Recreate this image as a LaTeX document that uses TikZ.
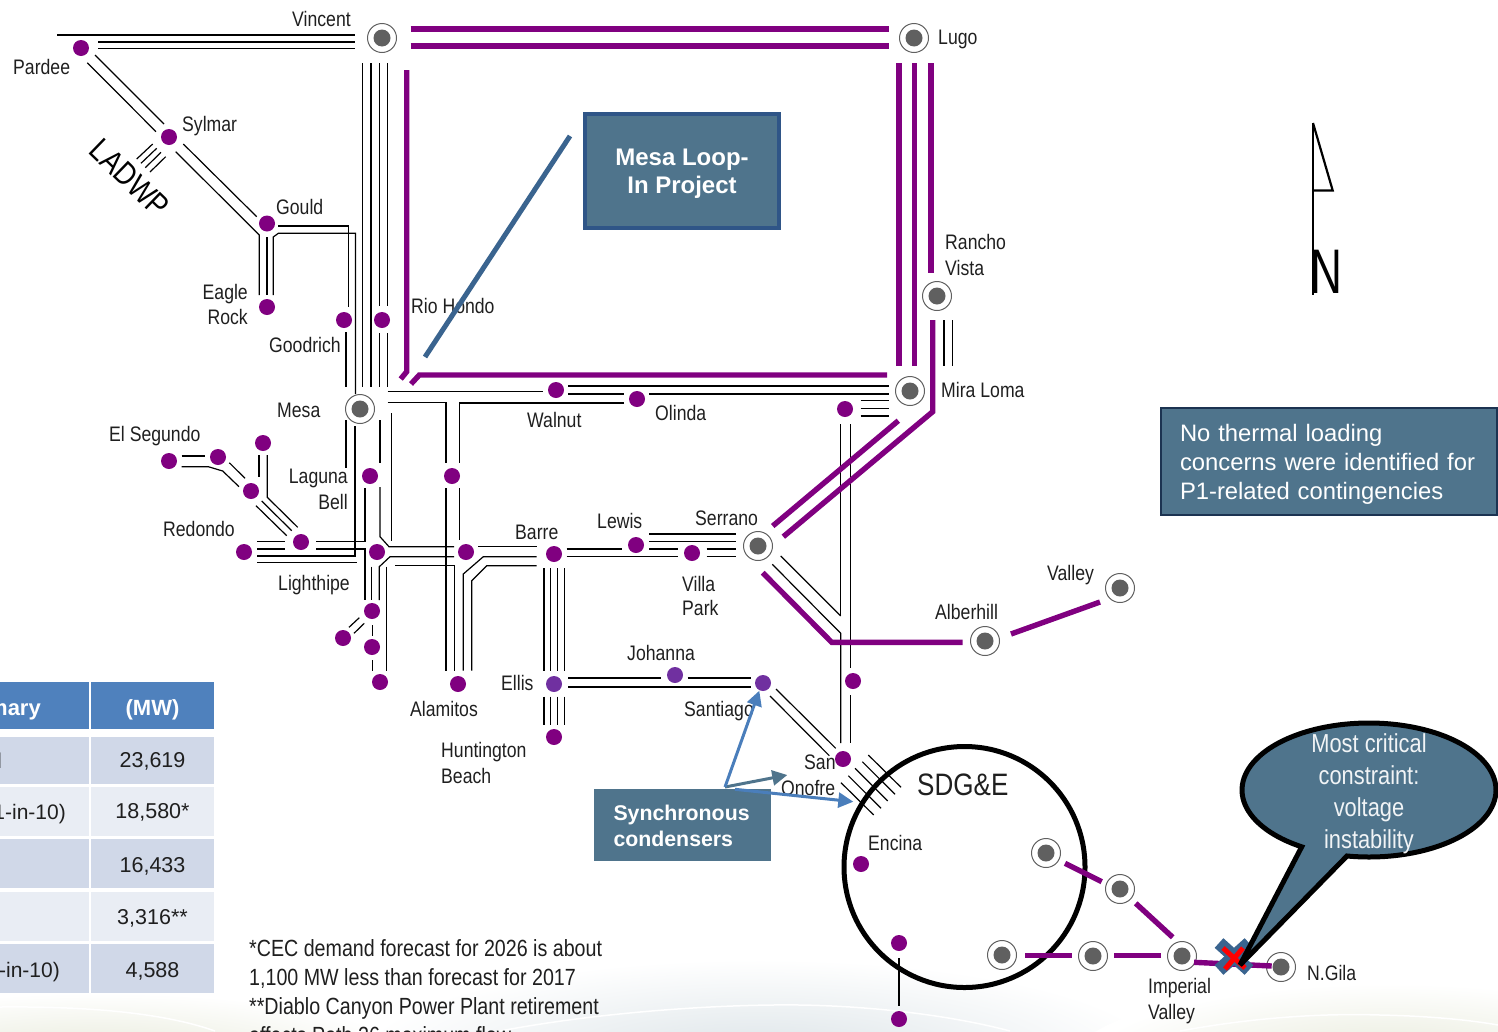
\documentclass[tikz,border=0pt]{standalone}
\usepackage{fontspec}
\usetikzlibrary{arrows.meta}
\setmainfont[FakeStretch=0.84]{Liberation Sans}
\newfontfamily\fullfont{Liberation Sans}
\definecolor{pwr}{HTML}{800080}
\definecolor{pwrb}{HTML}{7030A0}
\definecolor{corec}{HTML}{606060}
\definecolor{slate}{HTML}{4F748C}
\definecolor{navyb}{HTML}{2F5587}
\definecolor{loopc}{HTML}{3A648F}
\definecolor{bluea}{HTML}{4A7EBB}
\definecolor{hdr}{HTML}{4F81BD}
\definecolor{rowa}{HTML}{D0D8E8}
\definecolor{rowb}{HTML}{E9EDF4}
\definecolor{swA}{HTML}{E6E9D8}
\definecolor{swB}{HTML}{DBE3E7}
\pgfdeclareradialshading{swooshside}{\pgfpoint{0bp}{0bp}}{color(0bp)=(swA); color(24bp)=(white); color(50bp)=(white)}
\pgfdeclareradialshading{swooshmid}{\pgfpoint{0bp}{0bp}}{color(0bp)=(swB); color(24bp)=(white); color(50bp)=(white)}
\newcommand\wire[2][]{%
  \gdef\wirepath{}%
  \foreach \n/\a/\b [count=\i] in {#2}{%
    \xdef\wirepath{\wirepath\ifnum\i>1 -- \fi([shift={(\a,\b)}]\n.center)}%
  }%
  \draw[wire,#1] \wirepath;}
\tikzset{
  wire/.style={draw=black,line width=1.2pt,line join=miter},
  pl/.style={draw=pwr,line width=5.4pt},
  heavy/.style={line width=2pt},
  ringnode/.style={circle,draw=corec,line width=1pt,fill=white,minimum size=29pt,inner sep=0pt,
    path picture={\fill[corec] (path picture bounding box.center) circle (8.5pt);}},
  dotnode/.style={circle,fill=pwr,minimum size=16pt,inner sep=0pt},
  dotb/.style={circle,fill=pwrb,minimum size=16pt,inner sep=0pt},
  lbl/.style={inner sep=0pt,anchor=base west,text=black!88,font=\fontsize{21}{21}\selectfont},
  lblr/.style={lbl,anchor=base east},
  tcell/.style={rectangle,inner sep=0pt,minimum height=#1},
  foot/.style={lbl,font=\fontsize{23.4}{23.4}\selectfont},
  arrowblue/.style={draw=bluea,line width=3pt,-{Triangle[length=15pt,width=15pt]}},
  arrowslate/.style={draw=slate,line width=3pt,-{Triangle[length=15pt,width=15pt]}},
}
\begin{document}
\begin{tikzpicture}[x=1pt,y=-1pt]
\useasboundingbox (0,0) rectangle (1498,1031);
% background swoosh
\shade[shading=swooshside] (100,1060) ellipse (330 and 70);
\shade[shading=swooshmid] (760,1060) ellipse (420 and 105);
\shade[shading=swooshside] (1390,1065) ellipse (320 and 85);
\draw[white,line width=1.5pt] (0,1007) .. controls (100,1006) and (170,1015) .. (215,1031);
\draw[white,line width=1.5pt] (500,1031) .. controls (600,1012) and (720,1004) .. (800,1005) .. controls (870,1006) and (950,1015) .. (1010,1031);
\draw[white,line width=1.5pt] (1180,1031) .. controls (1250,1018) and (1320,1013) .. (1380,1015) .. controls (1430,1016) and (1470,1020) .. (1498,1025);
% table
\node[tcell=47pt,minimum width=89pt,fill=hdr] (hdrA) at (44.5,705.5) {};
\node[tcell=47pt,minimum width=123pt,fill=hdr,text=white,font=\fullfont\bfseries\fontsize{22}{22}\selectfont] (hdrB) at (152.5,705.5) {\raisebox{-3pt}[0.8em][0.2em]{(MW)}};
\foreach \nm/\yy/\hh/\cc/\ty/\val in {a/760.5/47/rowa/-0.5/{23,619},b/811.5/49/rowb/-0.5/{18,580*},c/863.5/49/rowa/-2.5/{16,433},d/916.5/49/rowb/-1.5/{3,316**},e/968.5/49/rowa/-2.5/{4,588}}{
  \node[tcell=\hh pt,minimum width=89pt,fill=\cc] (cellL\nm) at (44.5,\yy) {};
  \node[tcell=\hh pt,minimum width=123pt,fill=\cc,text=black!88,font=\fullfont\fontsize{21.5}{21.5}\selectfont] (cellR\nm) at (152.5,\yy) {\raisebox{\ty pt}[0.8em][0.2em]{\val}};
}
\node[lblr,text=white,font=\fullfont\bfseries\fontsize{22}{22}\selectfont] (hdrT) at (41,715) {mary};
\node[lbl,font=\fullfont\fontsize{21.5}{21.5}\selectfont] (rowTa) at (-3,768) {l};
\node[lblr,font=\fullfont\fontsize{21}{21}\selectfont] (rowTb) at (66,819) {1-in-10)};
\node[lblr,font=\fullfont\fontsize{21}{21}\selectfont] (rowTe) at (60,977) {-in-10)};
% SDG&E circle
\node[circle,draw=black,line width=5pt,minimum size=241pt,inner sep=0pt] (sdg) at (964.5,867) {};
% substations
\foreach \nm/\xx/\yy in {vincent/382/38,lugo/914/38,rancho/937/296,mira/910/391,mesa/360/409,serrano/758/546,alberhill/985/641,valley/1120/588,sdgA/1046/853,sdgB/1002/955,ivA/1120/889,ivB/1093/956,imperial/1182/956,ngila/1281/967}
  \node[ringnode] (\nm) at (\xx,\yy) {};
\foreach \nm/\xx/\yy in {pardee/81/48,sylmar/169/137,gould/267/223.5,eagle/267/307,goodrich/344/320,hondo/382/320,walnut/556/390,olinda/637/399,miradot/845/409,elseg/169/461,segB/218/457,segC/263/443,segD/251/491,lighthipe/301/542,redondo/244/552,laguna/370/476,lagR/452/476,hubA/377/552,hubB/466/552,barre/554/554,lewis/636/545,villa/692/553,lowA/372/611,lowB/343/638,lowC/372/647,lowD/380/682,alamitos/458/684,hunt/554/737,dotE/853/681,sano/843/759,encina/861/864,sdot/899/943,sdotB/899/1019}
  \node[dotnode] (\nm) at (\xx,\yy) {};
\foreach \nm/\xx/\yy in {ellis/554/684,johanna/675/675,santiago/763/683}
  \node[dotb] (\nm) at (\xx,\yy) {};
% thin lines
\wire{pardee/-24/-13, vincent/-27/-3}
\wire{pardee/17/-6, vincent/-27/4}
\wire{pardee/17/0.5, vincent/-27/10.5}
\wire{pardee/14/7, sylmar/-5/-13}
\wire{pardee/6.3/14.7, sylmar/-13/-5.3}
\wire{sylmar/14.3/7, gould/-10.3/-6.8}
\wire{sylmar/6.7/14.7, gould/-7.7/11.5, eagle/-7.7/-12}
\wire{gould/0/13.8, eagle/0/-12}
\wire{eagle/6.3/-12, gould/6.3/13.5, gould/11.3/9.8, gould/88.5/9.8, mesa/-4.5/-15}
\wire{gould/11.3/2.5, gould/81.3/2.5, goodrich/4.3/-13.3}
\wire{goodrich/2/12, mesa/-14/-22}
\wire{vincent/-19.3/25, mesa/2.7/-22}
\wire{vincent/-11/25, mesa/11/-22}
\wire{vincent/-2.7/25, hondo/-2.7/-14}
\wire{hondo/-2.7/13, mesa/19.3/-22}
\wire{vincent/5.7/25, hondo/5.7/-14}
\wire{hondo/5.7/13, mesa/27.7/-22}
\wire{mesa/27.7/-17.3, walnut/-13/1.7}
\wire{walnut/12/-4, mira/-21/-5}
\wire{walnut/12/4, olinda/-13/-5}
\wire{olinda/12/-5, mira/-21/3}
\wire{olinda/-13/4, lagR/7.5/-73, lagR/7.5/-13}
\wire{lagR/7.5/12, hubB/-6.5/-12}
\wire{mesa/27.7/-6.3, lagR/-6/-73.3, lagR/-6/-13}
\wire{lagR/-6/12, alamitos/-12/-13.3}
\wire{mesa/-14/11, laguna/-24/-8.3}
\wire{mesa/-5/17, hubA/-22/4, redondo/13/4}
\wire{redondo/13/-10.3, lighthipe/-16/-0.3}
\wire{redondo/13/-3, lighthipe/-16/7}
\wire{redondo/13/10.7, hubA/-20.3/10.7}
\wire{lighthipe/15/-0.3, hubA/-12/-10.3, laguna/-5/12}
\wire{lighthipe/15/7, hubA/-12/-3, lowA/-7/-11}
\wire{mesa/20/11, laguna/10/-13}
\wire{laguna/10/11, hubA/3/-15.3, hubA/12/-5.3, hubB/-12/-5.3}
\wire{mesa/31.7/4, hubA/14.7/-11.3}
\wire{hubA/-5.3/14.7, lowA/-0.3/-11}
\wire{lowA/7.3/-11, hubA/2.3/14.7, hubA/13/4.7, hubB/-12/4.7}
\wire{hubA/9.7/14.7, lowD/6.7/-11.3}
\wire{hubA/18/13.7, hubB/-11.7/13.7, alamitos/-3.7/-13.3}
\wire{hubB/12.3/-5.3, barre/-17.3/-7.3}
\wire{barre/-17.3/2.7, hubB/17.3/4.7, hubB/-2.7/22, alamitos/5.3/-13.3}
\wire{barre/-17.3/11.7, hubB/20.7/13.7, hubB/5.7/28.7, alamitos/13.7/-13.3}
\wire[heavy]{barre/12.7/-5, lewis/-13.7/4}
\wire{barre/12.7/2.7, villa/-13.7/3.7}
\wire{lewis/13.3/-11, serrano/-22/-12}
\wire{lewis/13.3/-3.3, serrano/-22/-4.3}
\wire{lewis/13.3/4, villa/-13.7/-4}
\wire[heavy]{villa/14.7/-4, serrano/-22/3}
\wire{villa/14.7/3.7, serrano/-22/10.7}
\foreach \dx in {-10,-3.3,3.3,10.7}{
  \wire{barre/\dx/14.3, ellis/\dx/-13.3}
  \wire{ellis/\dx/12.7, hunt/\dx/-12}
}
\wire[heavy]{ellis/14.3/-6.3, johanna/-14/2.7}
\wire[heavy]{johanna/12.7/2.7, santiago/-12.3/-5.3}
\wire[heavy]{ellis/14.3/3.3, santiago/-12.3/4.3}
\wire{santiago/13/6, sano/-7.3/-10.7}
\wire{santiago/7/13, sano/-13.7/-3.3}
\wire{serrano/22.7/10, dotE/-12.3/-65}
\wire{serrano/14.3/18.3, dotE/-12.3/-47.7, sano/-2.3/-16}
\wire{miradot/-4.3/15, dotE/-12.3/-65}
\wire{miradot/5.7/15, dotE/-2.3/-12.7}
\wire{dotE/-2.3/14, sano/7.7/-16}
\wire{miradot/15.7/-8.3, mira/-20.7/9.7}
\wire{miradot/15.7/-0.7, mira/-20.7/17.3}
\wire{miradot/15.7/7, mira/-20.7/25}
\wire{rancho/7/24, mira/34/-25}
\wire{rancho/15.3/24, mira/42.3/-25}
\wire{elseg/12.7/-5, segB/-13/-1}
\wire{elseg/12.7/5.7, segB/-9.7/9.7, segB/4.7/14, segD/-12/-4.3}
\wire{segB/11.3/5.7, segD/-6/-12.7}
\wire{segC/-4/12, segD/8/-13.7}
\wire{segC/4.3/12, segD/16.3/6.3, lighthipe/-3.3/-14.7}
\wire{segD/10.7/10, lighthipe/-9.3/-11.3}
\wire{segD/5/14.7, lighthipe/-14.3/-6.3}
\wire{lowB/6/-10.7, lowA/-12.7/6.7}
\wire{lowB/11/-4.7, lowA/-7.7/12.3}
\wire{lowA/0.3/14, lowC/0.3/-11.3}
\wire{lowC/0.3/13, lowD/-7.7/-11}
\wire{sylmar/-16.3/7, sylmar/-32.3/22}
\wire{sylmar/-12.3/11.3, sylmar/-28/26.3}
\wire{sylmar/-8/15.3, sylmar/-23.7/30.7}
\wire{sylmar/-3.3/19.7, sylmar/-19/35}
\wire{sano/25.3/-4, sano/58/28.3}
\wire{sano/19.3/2.7, sano/52/35.3}
\wire{sano/12/9.3, sano/44.7/42}
\wire{sano/5.3/16.7, sano/38/49.3}
\wire{sano/-2/23.7, sano/30.7/56}
\wire{sdot/0/15, sdotB/0/-13}
% purple 500 kV lines
\wire[pl]{vincent/28.7/-9, lugo/-25/-9}
\wire[pl]{vincent/28.7/8, lugo/-25/8}
\wire[pl]{vincent/24.7/32, mesa/46.7/-37.3, mesa/40.7/-30}
\wire[pl]{mesa/51/-25, mesa/59.3/-34, mira/-23/-16}
\wire[pl]{lugo/-15/25, mira/-11/-25}
\wire[pl]{lugo/0.7/25, mira/4.7/-25}
\wire[pl]{lugo/17/25, rancho/-6/-23}
\wire[pl]{rancho/-4.3/24, mira/22.7/20.7, serrano/25.3/-9.3}
\wire[pl]{mira/-11.7/29.7, serrano/14.7/-20}
\wire[pl]{serrano/4.7/26.7, alberhill/-153.3/1.3, alberhill/-22.3/1.3}
\wire[pl]{alberhill/26/-7, valley/-20/14}
\wire[pl]{sdgA/19/10.3, ivA/-18.3/-7.3}
\wire[pl]{ivA/15.7/14.3, imperial/-9.3/-18.7}
\wire[pl]{sdgB/23/0.7, ivB/-20.7/-0.3}
\wire[pl]{ivB/21/-0.3, imperial/-21.3/-0.3}
\wire[pl]{imperial/12/6.3, ngila/-9.3/-1}
% labels
\node[lbl] (tVincent) at (292,26) {Vincent};
\node[lbl] (tLugo) at (938,44.5) {Lugo};
\node[lbl] (tPardee) at (13,74.5) {Pardee};
\node[lbl] (tSylmar) at (182,131.5) {Sylmar};
\node[lbl] (tGould) at (276,214) {Gould};
\node[lblr] (tEagle) at (248,299.5) {Eagle};
\node[lblr] (tRock) at (248,324.5) {Rock};
\node[lbl] (tGoodrich) at (269,352.5) {Goodrich};
\node[lbl] (tHondo) at (411,313) {Rio Hondo};
\node[lbl] (tRancho) at (945,249) {Rancho};
\node[lbl] (tVista) at (945,275) {Vista};
\node[lbl] (tMira) at (941,397) {Mira Loma};
\node[lbl] (tMesa) at (277,417) {Mesa};
\node[lbl] (tWalnut) at (527,427) {Walnut};
\node[lbl] (tOlinda) at (655,420) {Olinda};
\node[lbl] (tSegundo) at (109,441.5) {El Segundo};
\node[lblr] (tLaguna) at (348,483.5) {Laguna};
\node[lblr] (tBell) at (348,509.5) {Bell};
\node[lbl] (tRedondo) at (163,536.5) {Redondo};
\node[lbl] (tLighthipe) at (278,590) {Lighthipe};
\node[lbl] (tBarre) at (515,539) {Barre};
\node[lbl] (tLewis) at (597,528) {Lewis};
\node[lbl] (tSerrano) at (695,525) {Serrano};
\node[lbl] (tVilla) at (682,591) {Villa};
\node[lbl] (tPark) at (682,615) {Park};
\node[lbl] (tAlberhill) at (935,619) {Alberhill};
\node[lbl] (tValley) at (1047,580) {Valley};
\node[lbl] (tJohanna) at (627,660) {Johanna};
\node[lbl] (tEllis) at (501,690) {Ellis};
\node[lbl] (tSantiago) at (684,716) {Santiago};
\node[lbl] (tAlamitos) at (410,716) {Alamitos};
\node[lbl] (tHunt) at (441,757) {Huntington};
\node[lbl] (tBeach) at (441,783) {Beach};
\node[lbl] (tSan) at (804,769) {San};
\node[lbl] (tOnofre) at (781,795) {Onofre};
\node[lbl,font=\fontsize{31}{31}\selectfont] (tSDG) at (917,795) {SDG\&E};
\node[lbl] (tEncina) at (868,850) {Encina};
\node[lbl] (tImperial) at (1148,993) {Imperial};
\node[lbl] (tIValley) at (1148,1019) {Valley};
\node[lbl] (tGila) at (1307,980) {N.Gila};
\node[inner sep=0pt,rotate=-44,text=black,font=\fontsize{32}{32}\selectfont] (tLADWP) at (130,178) {LADWP};
\node[foot] (fA) at (249,956) {*CEC demand forecast for 2026 is about};
\node[foot] (fB) at (249,985) {1,100 MW less than forecast for 2017};
\node[foot] (fC) at (249,1014) {**Diablo Canyon Power Plant retirement};
\node[foot] (fD) at (249,1043) {affects Path 26 maximum flow};
% boxes
\node[rectangle,fill=slate,draw=navyb,line width=4pt,minimum width=194pt,minimum height=114pt,inner sep=0pt,align=center,text=white,font=\fullfont\bfseries\fontsize{24}{28}\selectfont] (loopbox) at (682,171) {\\[-7pt]Mesa Loop-\\In Project};
\wire[draw=loopc,line width=5pt]{loopbox/-112/-35, mesa/65/-52}
\node[rectangle,fill=slate,draw=navyb!60!black,line width=2pt,minimum width=336pt,minimum height=107pt,inner sep=0pt] (thermal) at (1329,461.5) {};
\node[inner sep=0pt,text width=298pt,align=left,text=white,font=\fullfont\fontsize{23.8}{29}\selectfont] (thermalText) at (1329,464.5) {No thermal loading\\concerns were identified for\\P1-related contingencies};
\node[rectangle,fill=slate,minimum width=177pt,minimum height=72pt,inner sep=0pt] (sync) at (682.5,825) {};
\node[inner sep=0pt,text width=138pt,align=left,text=white,font=\fullfont\bfseries\fontsize{21.3}{26}\selectfont] (syncText) at (682.5,826) {Synchronous\\condensers};
\coordinate (syncpt) at (725,787);
\wire[arrowslate]{syncpt/0/0, sano/-55.7/16}
\wire[arrowblue]{syncpt/0/0, santiago/-3.7/7.7}
\wire[arrowblue]{syncpt/10/2.3, sano/10.3/42.7}
% north arrow
\coordinate (northtip) at (1313,123);
\coordinate (northfoot) at (1313,295);
\draw[black,line width=2.5pt] (northtip) -- (northfoot);
\draw[black,line width=2.2pt,line join=miter] (northtip) -- (1332.7,190.5) -- (1313,190.5);
\node[inner sep=0pt,anchor=base west,xscale=0.7,transform shape,text=black,font=\fullfont\fontsize{63}{63}\selectfont] (tN) at (1310,293) {N};
% fault mark
\coordinate (fault) at (1234,956.5);
\draw[loopc,line width=13pt] ([shift={(-15,-13.5)}]fault) -- ([shift={(15,13.5)}]fault);
\draw[loopc,line width=13pt] ([shift={(15,-13.5)}]fault) -- ([shift={(-15,13.5)}]fault);
\draw[red,line width=5pt] ([shift={(-11,-8.5)}]fault) -- ([shift={(11,11.5)}]fault);
\draw[red,line width=5pt] ([shift={(9,-8.5)}]fault) -- ([shift={(-9,12.5)}]fault);
% callout
\draw[fill=slate,draw=black,line width=5pt,line join=miter,miter limit=3] (1240,965) -- plot[domain=-122:-460,samples=120,smooth] ({1369+127*cos(\x)},{790-67*sin(\x)}) -- cycle;
\node[inner sep=0pt,align=center,text=white!92!slate,font=\fontsize{26}{32}\selectfont] (tCrit) at (1369,794) {Most critical\\constraint:\\voltage\\instability};
\end{tikzpicture}
\end{document}
